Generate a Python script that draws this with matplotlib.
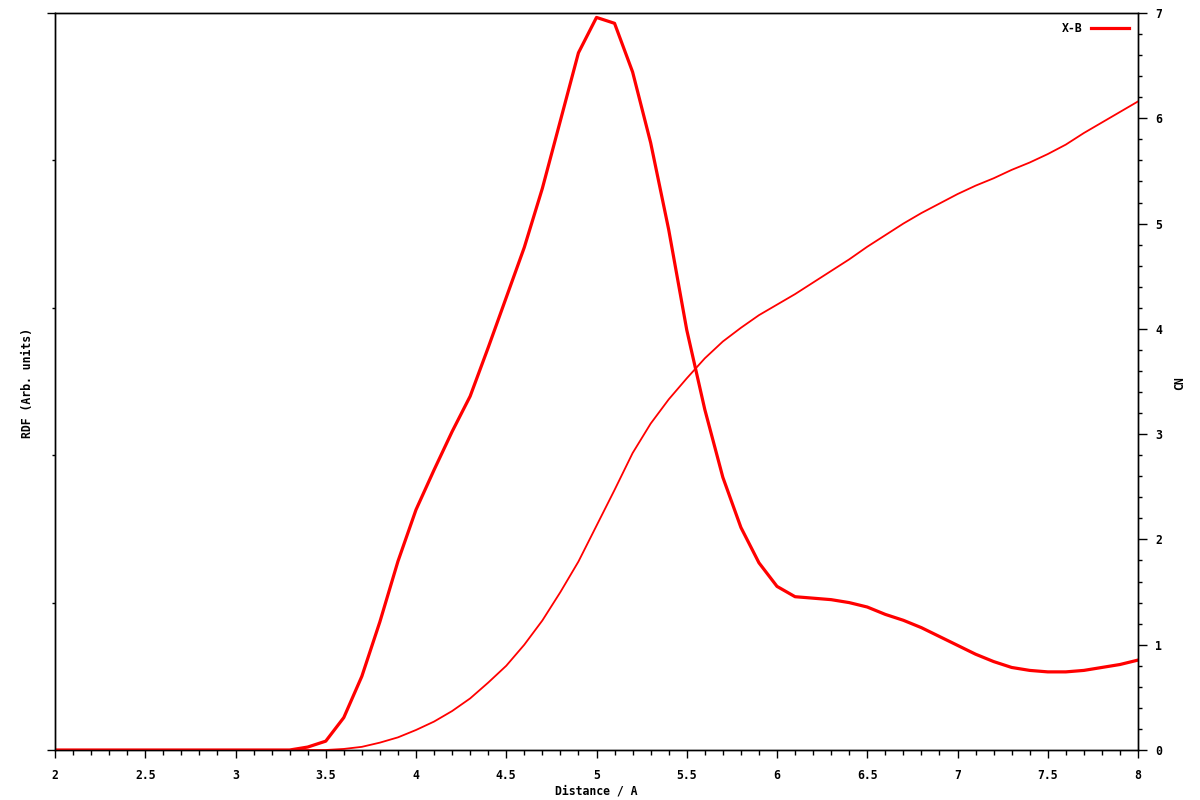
import numpy as np
import matplotlib
matplotlib.use("Agg")
import matplotlib.pyplot as plt
from matplotlib.ticker import MultipleLocator, FixedLocator, NullFormatter

# radial distribution (arbitrary units) and coordination number, sampled every 0.1 A
distance = np.round(np.arange(2.0, 8.0001, 0.1), 1)

rdf = [0.00, 0.00, 0.00, 0.00, 0.00, 0.00, 0.00, 0.00, 0.00, 0.00,
       0.00, 0.00, 0.00, 0.00, 0.02, 0.06, 0.22, 0.50, 0.87, 1.28,
       1.63, 1.90, 2.16, 2.40, 2.73, 3.07, 3.41, 3.81, 4.27, 4.73,
       4.97, 4.93, 4.60, 4.12, 3.53, 2.85, 2.31, 1.85, 1.51, 1.27,
       1.11, 1.04, 1.03, 1.02, 1.00, 0.97, 0.92, 0.88, 0.83, 0.77,
       0.71, 0.65, 0.60, 0.56, 0.54, 0.53, 0.53, 0.54, 0.56, 0.58,
       0.61]

cn = [0.00, 0.00, 0.00, 0.00, 0.00, 0.00, 0.00, 0.00, 0.00, 0.00,
      0.00, 0.00, 0.00, 0.00, 0.00, 0.00, 0.01, 0.03, 0.07, 0.12,
      0.19, 0.27, 0.37, 0.49, 0.64, 0.80, 1.00, 1.23, 1.50, 1.79,
      2.13, 2.47, 2.82, 3.10, 3.33, 3.53, 3.72, 3.88, 4.01, 4.13,
      4.23, 4.33, 4.44, 4.55, 4.66, 4.78, 4.89, 5.00, 5.10, 5.19,
      5.28, 5.36, 5.43, 5.51, 5.58, 5.66, 5.75, 5.86, 5.96, 6.06,
      6.16]

series_label = "X-B"
cn_ticks = [0, 1, 2, 3, 4, 5, 6, 7]
x_ticks = [2, 2.5, 3, 3.5, 4, 4.5, 5, 5.5, 6, 6.5, 7, 7.5, 8]

font = {"family": "DejaVu Sans Mono", "weight": "bold", "size": 8.3}
plt.rcParams["font.family"] = "DejaVu Sans Mono"
plt.rcParams["font.weight"] = "bold"
plt.rcParams["font.size"] = 8.3

fig = plt.figure(figsize=(12, 8), dpi=100, facecolor="w")
ax = fig.add_axes([55 / 1200, 50 / 800, (1138 - 55) / 1200, (750 - 13) / 800])
ax2 = ax.twinx()

ax.plot(distance, rdf, "-", color="#ff0000", linewidth=2.3, label=series_label)
ax2.plot(distance, cn, "-", color="#ff0000", linewidth=1.3)

ax.set_xlim(2, 8)
ax.set_ylim(0, 5)
ax2.set_ylim(0, 7)

# x axis
ax.xaxis.set_major_locator(FixedLocator(x_ticks))
ax.xaxis.set_minor_locator(MultipleLocator(0.1))
ax.set_xticklabels([f"{t:g}" for t in x_ticks])
ax.tick_params(axis="x", which="major", direction="out", length=6, width=1, pad=8)
ax.tick_params(axis="x", which="minor", direction="out", length=3.5, width=1)
ax.tick_params(axis="x", top=False, which="both")

# left axis: ticks only, no labels
ax.yaxis.set_major_locator(FixedLocator([0, 5]))
ax.yaxis.set_minor_locator(FixedLocator([1, 2, 3, 4]))
ax.yaxis.set_major_formatter(NullFormatter())
ax.tick_params(axis="y", which="major", direction="out", length=6, width=1)
ax.tick_params(axis="y", which="minor", direction="out", length=2.5, width=1)

# right axis: CN
ax2.yaxis.set_major_locator(FixedLocator(cn_ticks))
ax2.yaxis.set_minor_locator(MultipleLocator(0.2))
ax2.tick_params(axis="y", which="major", direction="out", length=6.5, width=1, pad=6)
ax2.tick_params(axis="y", which="minor", direction="out", length=2.8, width=1)

for a in (ax, ax2):
    for s in a.spines.values():
        s.set_linewidth(1)
        s.set_color("black")

fig.text(596 / 1200, 1 - 791 / 800, "Distance / A", ha="center", va="center", **font)
fig.text(28 / 1200, 1 - 383 / 800, "RDF (Arb. units)", ha="center", va="center",
         rotation=90, **font)
fig.text(1180 / 1200, 1 - 383 / 800, "CN", ha="center", va="center", rotation=90, **font)

leg = ax.legend(loc="upper right", frameon=False, markerfirst=False,
                handlelength=3.3, borderaxespad=0.35, prop=font)

fig.savefig("out.png", dpi=100, facecolor="w")
